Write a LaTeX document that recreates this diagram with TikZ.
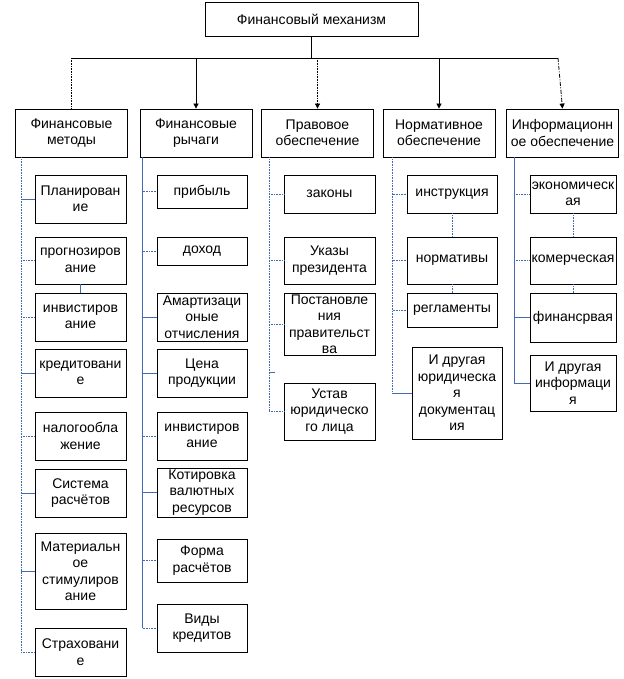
\documentclass[tikz,border=0pt]{standalone}
\usepackage{fontspec}
\setmainfont{Liberation Sans}
\usetikzlibrary{calc,arrows.meta}
\definecolor{wireblue}{RGB}{68,106,178}

\begin{document}
\begin{tikzpicture}[
            x=1pt, y=-1pt,
            box/.style={draw=black, line width=.8pt, inner sep=0pt, align=center, font=\fontsize{14}{16.5}\selectfont},
            head/.style={box, minimum width=112pt, minimum height=48pt},
            sub/.style={box, minimum width=#1},
            link/.style={draw=black, line width=.8pt},
            dots/.style={dash pattern=on .8pt off .8pt},
            drop/.style={link, -{Triangle[length=5pt, width=5pt]}},
            wire/.style={draw=wireblue, line width=.9pt},
            dotwire/.style={wire, dots},
        ]
            \useasboundingbox (0, 0) rectangle (623, 679);
            %% top
            \node[box, minimum width=213pt, minimum height=34pt] at (311.5, 19) (top) {Финансовый механизм};
            \node[head] at (71.5, 133) (methods) {Финансовые\\методы};
            \node[head] at (196, 133) (levers) {Финансовые\\рычаги};
            \node[head] at (317.5, 133) (legal) {Правовое\\обеспечение};
            \node[head] at (439, 133) (norms) {Нормативное\\обеспечение};
            \node[head] at (562.5, 133) (info) {Информационн\\ое обеспечение};
            %% methods
            \node[sub=91pt, minimum height=48pt] at (80.5, 199) (plan) {Планирован\\ие};
            \node[sub=91pt, minimum height=47pt] at (80.5, 260.5) (forecast) {прогнозиров\\ание};
            \node[sub=91pt, minimum height=48pt] at (80.5, 317) (invest) {инвистиров\\ание};
            \node[sub=91pt, minimum height=48pt] at (80.5, 373) (credit) {кредитовани\\е};
            \node[sub=91pt, minimum height=48pt] at (80.5, 436) (tax) {налогообла\\жение};
            \node[sub=91pt, minimum height=48pt] at (80.5, 493) (settle) {Система\\расчётов};
            \node[sub=91pt, minimum height=76pt] at (80.5, 571) (stimul) {Материальн\\ое\\стимулиров\\ание};
            \node[sub=91pt, minimum height=48pt] at (80.5, 652) (insur) {Страховани\\е};
            %% levers
            \node[sub=90pt, minimum height=33pt] at (202, 191.5) (profit) {прибыль};
            \node[sub=90pt, minimum height=28pt] at (202, 251) (income) {доход};
            \node[sub=90pt, minimum height=48pt] at (202, 317) (amort) {Амартизаци\\оные\\отчисления};
            \node[sub=90pt, minimum height=48pt] at (202, 373) (price) {Цена\\продукции};
            \node[sub=90pt, minimum height=48pt] at (202, 436) (invest2) {инвистиров\\ание};
            \node[sub=90pt, minimum height=49pt] at (202, 492.5) (quote) {Котировка\\валютных\\ресурсов};
            \node[sub=90pt, minimum height=43pt] at (202, 560.5) (payform) {Форма\\расчётов};
            \node[sub=90pt, minimum height=48pt] at (202, 628) (loans) {Виды\\кредитов};
            %% legal
            \node[sub=91pt, minimum height=38pt] at (329.5, 194) (laws) {законы};
            \node[sub=91pt, minimum height=47pt] at (329.5, 260.5) (decrees) {Указы\\президента};
            \node[sub=91pt, minimum height=62pt] at (329.5, 324) (resol) {Постановле\\ния\\правительст\\ва};
            \node[sub=91pt, minimum height=57pt] at (329.5, 411.5) (charter) {Устав\\юридическо\\го лица};
            %% norms
            \node[sub=90pt, minimum height=38pt] at (452, 194) (instr) {инструкция};
            \node[sub=90pt, minimum height=47pt] at (452, 260.5) (rules) {нормативы};
            \node[sub=90pt, minimum height=34pt] at (452, 310) (regl) {регламенты};
            \node[sub=90pt, minimum height=92pt] at (457, 393) (otherdoc) {И другая\\юридическа\\я\\документац\\ия};
            %% info
            \node[sub=86pt, minimum height=38pt] at (573, 194) (econ) {экономическ\\ая};
            \node[sub=86pt, minimum height=47pt] at (573, 260.5) (comm) {комерческая};
            \node[sub=86pt, minimum height=49pt] at (573, 317.5) (fin) {финансрвая};
            \node[sub=86pt, minimum height=56pt] at (573, 383) (otherinfo) {И другая\\информаци\\я};
            %% top connection
            \coordinate (bus) at (311.5, 58);
            \coordinate (busleft) at (71.5, 58);
            \coordinate (busright) at (558, 58);
            \draw[link] (top.south) -- (bus);
            \draw[link] (busleft) -- (busright);
            \draw[link, dots] (busleft) -- (methods.north);
            \draw[drop] (bus -| levers.north) -- (levers.north);
            \draw[drop, dots] (bus -| legal.north) -- (legal.north);
            \draw[drop] (bus -| norms.north) -- (norms.north);
            \draw[drop, dash pattern=on 4pt off 1.5pt on 1pt off 1.5pt] (busright) -- (info.north);
            %% trunks
            \coordinate (t1) at ($(methods.south west) + (6, 0)$);
            \coordinate (t2) at ($(levers.south west) + (3, 0)$);
            \coordinate (t3) at ($(legal.south west) + (8, 0)$);
            \coordinate (t4) at ($(norms.south west) + (10, 0)$);
            \coordinate (t5) at ($(info.south west) + (8, 0)$);
            \draw[dotwire] (t1) -- (t1 |- insur.west);
            \draw[wire] (t2) -- (t2 |- loans.west);
            \draw[dotwire] (t3) -- (t3 |- charter.west);
            \draw[dotwire] (t4) -- (t4 |- otherdoc.west);
            \draw[wire] (t5) -- (t5 |- otherinfo.west);
            %% methods branches
            \draw[wire] (t1 |- plan.west) -- (plan.west);
            \draw[dotwire] (t1 |- forecast.west) -- (forecast.west);
            \draw[dotwire] (t1 |- invest.west) -- (invest.west);
            \draw[wire] (t1 |- credit.west) -- (credit.west);
            \draw[dotwire] (t1 |- tax.west) -- (tax.west);
            \draw[wire] (t1 |- settle.west) -- (settle.west);
            \draw[wire] (t1 |- stimul.west) -- (stimul.west);
            \draw[dotwire] (t1 |- insur.west) -- (insur.west);
            \draw[wire] (forecast.south) -- (invest.north);
            %% levers branches
            \draw[dotwire] (t2 |- profit.west) -- (profit.west);
            \draw[dotwire] (t2 |- income.west) -- (income.west);
            \draw[wire] (t2 |- amort.west) -- (amort.west);
            \draw[wire] (t2 |- price.west) -- (price.west);
            \draw[dotwire] (t2 |- invest2.west) -- (invest2.west);
            \draw[wire] (t2 |- quote.west) -- (quote.west);
            \draw[dotwire] (t2 |- payform.west) -- (payform.west);
            \draw[dotwire] (t2 |- loans.west) -- (loans.west);
            %% legal branches
            \draw[dotwire] (t3 |- laws.west) -- (laws.west);
            \draw[dotwire] (t3 |- decrees.west) -- (decrees.west);
            \draw[dotwire] (t3 |- resol.west) -- (resol.west);
            \coordinate (stub) at ($(t3) + (0, 215)$);
            \draw[wire] (stub) -- ($(stub) + (6, 0)$);
            \draw[dotwire] (t3 |- charter.west) -- (charter.west);
            %% norms branches
            \draw[dotwire] (t4 |- instr.west) -- (instr.west);
            \draw[dotwire] (t4 |- rules.west) -- (rules.west);
            \draw[dotwire] (t4 |- regl.west) -- (regl.west);
            \draw[wire] (t4 |- otherdoc.west) -- (otherdoc.west);
            \draw[dotwire] (instr.south) -- (rules.north);
            \draw[dotwire] (rules.south) -- (regl.north);
            %% info branches
            \draw[dotwire] (t5 |- econ.west) -- (econ.west);
            \draw[dotwire] (t5 |- comm.west) -- (comm.west);
            \draw[wire] (t5 |- fin.west) -- (fin.west);
            \draw[wire] (t5 |- otherinfo.west) -- (otherinfo.west);
            \draw[dotwire] (econ.south) -- (comm.north);
            \draw[dotwire] (comm.south) -- (fin.north);

        \end{tikzpicture}
\end{document}
